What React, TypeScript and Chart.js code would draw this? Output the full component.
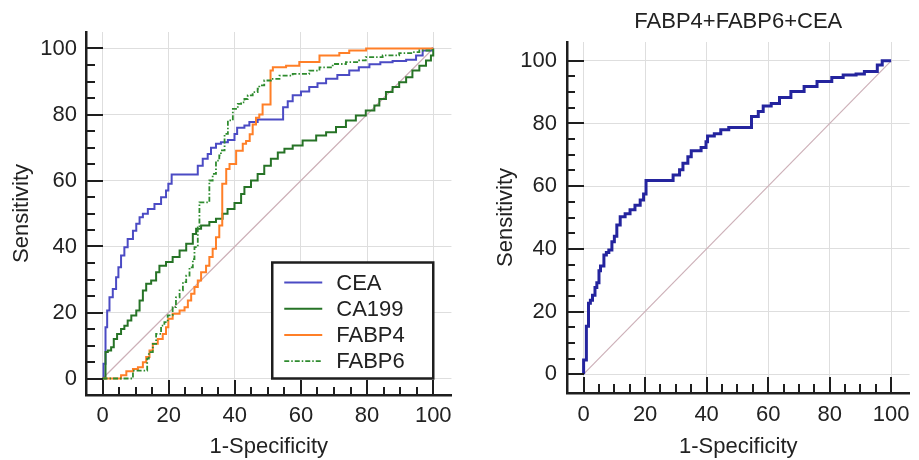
import React, { useEffect, useRef } from 'react';
import { Chart, registerables } from 'chart.js';

Chart.register(...registerables);

// ---------- data ----------
const tickValues = [0, 20, 40, 60, 80, 100];
const minorStep = 5;
const seriesLabels = ['CEA', 'CA199', 'FABP4', 'FABP6'];
const combinedTitle = 'FABP4+FABP6+CEA';
const xAxisTitle = '1-Specificity';
const yAxisTitle = 'Sensitivity';

const diagX = [0, 100];
const diagY = [0, 100];

const ceaX = [0, 0.3, 0.9, 1.4, 2.1, 3.1, 4.1, 4.8, 5.6, 6.6, 7.6, 9.2, 10.2, 11.2, 12.2, 13.7, 15.7, 17.7, 19.2, 19.9, 20.9, 27.3, 28.8, 30.3, 31.8, 32.8, 34.3, 35.8, 37.9, 39.9, 40.7, 42.9, 44.4, 46.9, 54.3, 54.6, 56, 57.5, 60, 62.5, 65, 67.6, 71, 74.6, 77.5, 80.7, 84, 87.7, 91.8, 94.8, 96.8, 99.8, 100];
const ceaY = [0, 4.5, 15.5, 20.6, 24.6, 27.1, 30.7, 33.7, 37.3, 39.8, 42.3, 44.8, 46.9, 48.9, 49.9, 51.4, 52.9, 54.9, 57, 59, 61.8, 61.8, 64.5, 66.6, 68, 69.9, 71.1, 71.6, 72.3, 74.1, 76, 76.7, 77.7, 78.5, 78.5, 82.2, 84, 85.8, 87, 88.3, 89.5, 90.8, 92, 93.3, 94.3, 95.2, 95.8, 96.2, 96.6, 97.9, 99.4, 100, 100];

const ca199X = [0, 0.9, 1.6, 2.6, 3.4, 4.4, 5.6, 6.6, 7.6, 8.7, 10.2, 11.2, 12.2, 13.2, 14.7, 16.2, 17.2, 19.2, 21.2, 23.3, 25.3, 27.3, 28.3, 29.8, 32.3, 34.3, 36.3, 37.8, 39.9, 41.9, 42.9, 44.9, 46.9, 48.9, 50.9, 53, 55, 57.5, 60.5, 64.6, 67.6, 70.6, 73.6, 76.6, 79.6, 82.2, 83.7, 85.7, 87.7, 89.7, 91.8, 93.7, 95.8, 97.8, 99.3, 100];
const ca199Y = [0, 8, 8.5, 9.5, 12, 13.5, 15, 16, 17.6, 19.1, 20.6, 23.6, 26.7, 28.7, 29.7, 32.2, 34.2, 35.3, 36.8, 38.8, 40.8, 43.8, 45.4, 46.4, 47.4, 48.4, 49.9, 51.4, 53.2, 55.9, 58, 60, 62, 64.5, 66.6, 68.5, 69.6, 70.6, 72.1, 73.6, 74.6, 76.2, 78.2, 79.7, 81.2, 82.7, 84.7, 86.8, 88.3, 89.8, 91.3, 93.3, 94.8, 96.4, 97.9, 100];

const fabp4X = [0, 5.1, 5.6, 7.2, 9.2, 10.7, 12.2, 13.2, 14.2, 15.2, 16.7, 18.2, 19.2, 19.9, 21.2, 23.3, 24.8, 25.8, 26.8, 27.8, 28.8, 29.8, 31.3, 32.3, 33.3, 34.3, 35.3, 36.2, 37.4, 38.4, 40.4, 42.4, 43.4, 44.5, 45.4, 46.4, 47.4, 48.4, 50.5, 50.8, 51.5, 55.5, 59.5, 65.6, 71.6, 74.6, 79.7, 100];
const fabp4Y = [0, 0, 1, 2.2, 2.9, 3.4, 4.9, 6.5, 8.5, 10.5, 12, 13.5, 15.5, 18.1, 19.6, 20.6, 21.6, 23.6, 25.7, 27.7, 29.7, 32.2, 34.2, 36.8, 39.3, 42.8, 46.4, 59, 63.5, 65, 69, 71.1, 72, 74, 77, 79, 80, 83, 83, 93.3, 94.3, 94.8, 95.9, 97.9, 98.6, 99.4, 100, 100];

const fabp6X = [0, 8.7, 9.2, 13, 13.5, 14, 15.2, 16.2, 17.7, 18.7, 19.7, 21.2, 22.2, 23.3, 24.3, 25.3, 26.3, 27.3, 27.8, 28.8, 29.3, 31.3, 32.3, 33.3, 34.3, 35.3, 35.8, 36.9, 37.9, 39.4, 40.9, 41.9, 42.9, 43.9, 45.4, 46.9, 47.4, 48.9, 50.9, 53.5, 57.5, 62.5, 65.6, 69.6, 73.6, 77.6, 79.6, 84.7, 89.7, 93.7, 95.8, 99.8, 100];
const fabp6Y = [0, 0, 2.4, 2.4, 6, 8, 10.5, 13.5, 16, 17.1, 19.1, 21.6, 24.6, 26.7, 29.2, 31.2, 33.7, 36.2, 39.8, 45.8, 53.4, 53.4, 60, 62, 66, 67.6, 69.1, 74.1, 78.2, 81.7, 83.2, 83.7, 84.7, 85.8, 86.8, 87.8, 88.8, 90.3, 90.8, 91.8, 92.3, 93.3, 94.3, 95.3, 95.9, 96.4, 97.4, 97.9, 98.6, 98.9, 99.4, 100, 100];

const combinedX = [0, 0, 0.9, 1.6, 2.2, 2.9, 3.7, 4.3, 5.0, 5.5, 6.6, 7.4, 8.2, 9.2, 10, 10.8, 11.9, 13.5, 15.1, 16.7, 18.4, 19.5, 20.3, 27.5, 29.1, 31.2, 32.3, 33.9, 35, 38.2, 39.8, 40.3, 42.5, 44.6, 47.2, 54.3, 54.6, 56.8, 58.4, 61, 63.7, 67.4, 71.7, 75.9, 80.7, 84.4, 88.6, 91.3, 94.8, 95.5, 97.1, 100];
const combinedY = [0, 4.5, 15.3, 22.6, 23.6, 25.2, 27.7, 29.2, 33, 34.5, 38, 38.8, 39.6, 42.3, 44, 47.6, 50.2, 51.2, 52.5, 53.9, 55.6, 57.5, 61.8, 61.8, 63.6, 65.2, 67.3, 69.4, 71.3, 72.3, 74.2, 76, 76.7, 78, 78.7, 78.7, 82.2, 83.8, 85.6, 86.4, 88.3, 90.2, 91.8, 93.4, 94.7, 95.5, 95.8, 96.6, 96.6, 98.7, 100, 100];

// ---------- styles ----------
const FONT = "'Liberation Sans', Arial, sans-serif";
const TEXT = '#222222';
const AXIS = '#1e1e1e';
const GRID = '#dedede';
const DIAG = '#cdb0b8';
const COLORS = ['#4b4bc4', '#267326', '#ff7f27', '#2e8b2e'];
const COMBINED = '#24249e';

const pts = (xs: number[], ys: number[]) => xs.map((x, i) => ({ x, y: ys[i] }));

const innerTicks = (xMajor: number, xMinor: number, yMajor: number, yMinor: number) => ({
  id: 'innerTicks',
  afterDatasetsDraw(chart: any) {
    const { ctx, chartArea, scales } = chart;
    const xs = scales.x;
    const ys = scales.y;
    ctx.save();
    ctx.strokeStyle = AXIS;
    ctx.lineWidth = 2;
    ctx.beginPath();
    for (let v = tickValues[0]; v <= tickValues[tickValues.length - 1]; v += minorStep) {
      const major = tickValues.includes(v);
      const px = Math.round(xs.getPixelForValue(v));
      ctx.moveTo(px, chartArea.bottom);
      ctx.lineTo(px, chartArea.bottom - (major ? xMajor : xMinor));
      const py = Math.round(ys.getPixelForValue(v));
      ctx.moveTo(chartArea.left, py);
      ctx.lineTo(chartArea.left + (major ? yMajor : yMinor), py);
    }
    ctx.stroke();
    ctx.restore();
  },
});

const boxLegend = {
  id: 'boxLegend',
  afterDraw(chart: any) {
    const { ctx, scales } = chart;
    const right = scales.x.getPixelForValue(100);
    const bottom = scales.y.getPixelForValue(0);
    const w = 161;
    const h = 116;
    const left = right - w;
    const top = bottom - h;
    ctx.save();
    ctx.fillStyle = '#ffffff';
    ctx.fillRect(left, top, w, h);
    ctx.strokeStyle = AXIS;
    ctx.lineWidth = 2.5;
    ctx.strokeRect(left, top, w, h);
    const items = chart.data.datasets.filter((d: any) => d.inLegend);
    items.forEach((ds: any, i: number) => {
      const cy = top + 20 + i * 26.2;
      ctx.strokeStyle = ds.borderColor;
      ctx.lineWidth = ds.borderWidth;
      ctx.setLineDash(ds.borderDash || []);
      ctx.beginPath();
      ctx.moveTo(left + 12, cy);
      ctx.lineTo(left + 50, cy);
      ctx.stroke();
      ctx.setLineDash([]);
      ctx.fillStyle = TEXT;
      ctx.font = `22px ${FONT}`;
      ctx.textBaseline = 'middle';
      ctx.textAlign = 'left';
      ctx.fillText(ds.label, left + 64, cy + 1);
    });
    ctx.restore();
  },
};

function makeScales(o: any) {
  const font = { family: FONT, size: 22 };
  return {
    x: {
      type: 'linear',
      min: o.xMin,
      max: o.xMax,
      afterBuildTicks: (s: any) => {
        s.ticks = tickValues.map((v) => ({ value: v }));
      },
      afterFit: (s: any) => {
        s.height = o.xHeight;
      },
      grid: { color: GRID, lineWidth: 1, drawTicks: false },
      border: { display: true, color: AXIS, width: 2.5 },
      ticks: { padding: o.xTickPad, font, color: TEXT, maxRotation: 0, autoSkip: false },
      title: { display: true, text: xAxisTitle, font, color: TEXT, padding: { top: 0, bottom: 0 } },
    },
    y: {
      type: 'linear',
      min: o.yMin,
      max: o.yMax,
      afterBuildTicks: (s: any) => {
        s.ticks = tickValues.map((v) => ({ value: v }));
      },
      afterFit: (s: any) => {
        s.width = o.yWidth;
      },
      grid: { color: GRID, lineWidth: 1, drawTicks: false },
      border: { display: true, color: AXIS, width: 2.5 },
      ticks: { padding: o.yTickPad, font, color: TEXT, autoSkip: false },
      title: { display: true, text: yAxisTitle, font, color: TEXT, padding: { top: o.yTitlePad, bottom: 0 } },
    },
  };
}

const diagDataset = {
  label: 'ref',
  data: pts(diagX, diagY),
  borderColor: DIAG,
  borderWidth: 1.2,
  pointRadius: 0,
  order: 10,
};

export default function App() {
  const leftRef = useRef<HTMLCanvasElement>(null);
  const rightRef = useRef<HTMLCanvasElement>(null);

  useEffect(() => {
    document.body.style.margin = '0';
    const seriesX = [ceaX, ca199X, fabp4X, fabp6X];
    const seriesY = [ceaY, ca199Y, fabp4Y, fabp6Y];
    const left = new Chart(leftRef.current as HTMLCanvasElement, {
      type: 'line',
      data: {
        datasets: [
          ...seriesLabels.map((label, i) => ({
            label,
            inLegend: true,
            data: pts(seriesX[i], seriesY[i]),
            borderColor: COLORS[i],
            borderWidth: i === 3 ? 1.8 : 2,
            borderDash: i === 3 ? [5, 2, 1.5, 2] : [],
            pointRadius: 0,
            stepped: 'before',
            order: 4 - i,
          })),
          { ...diagDataset },
        ],
      } as any,
      options: {
        responsive: false,
        animation: false,
        devicePixelRatio: 1,
        layout: { padding: { left: 0, right: 8, top: 32, bottom: 0 } },
        plugins: { legend: { display: false }, tooltip: { enabled: false }, title: { display: false } },
        scales: makeScales({
          xMin: -5, xMax: 105.5, yMin: -5, yMax: 105,
          xHeight: 65, yWidth: 86, xTickPad: 8, yTickPad: 9, yTitlePad: 9,
        }) as any,
      },
      plugins: [innerTicks(15, 8, 17, 9), boxLegend],
    });

    const right = new Chart(rightRef.current as HTMLCanvasElement, {
      type: 'line',
      data: {
        datasets: [
          {
            label: combinedTitle,
            data: pts(combinedX, combinedY),
            borderColor: COMBINED,
            borderWidth: 3,
            pointRadius: 0,
            stepped: 'before',
            order: 1,
          },
          { ...diagDataset },
        ],
      } as any,
      options: {
        responsive: false,
        animation: false,
        devicePixelRatio: 1,
        layout: { padding: { left: 0, right: 2, top: 0, bottom: 0 } },
        plugins: {
          legend: { display: false },
          tooltip: { enabled: false },
          title: {
            display: true,
            text: combinedTitle,
            fullSize: false,
            color: TEXT,
            font: { family: FONT, size: 22, weight: 'normal' },
            padding: { top: 9, bottom: 6.6 },
          },
        },
        scales: makeScales({
          xMin: -5.4, xMax: 106, yMin: -6, yMax: 106,
          xHeight: 67, yWidth: 107, xTickPad: 9, yTickPad: 10, yTitlePad: 33,
        }) as any,
      },
      plugins: [innerTicks(16, 9, 17, 8)],
    });

    return () => {
      left.destroy();
      right.destroy();
    };
  }, []);

  return (
    <div style={{ position: 'absolute', left: 0, top: 0, width: 919, height: 460, background: '#fff' }}>
      <canvas ref={leftRef} width={460} height={460} style={{ position: 'absolute', left: 0, top: 0, display: 'block' }} />
      <canvas ref={rightRef} width={459} height={460} style={{ position: 'absolute', left: 460, top: 0, display: 'block' }} />
    </div>
  );
}
